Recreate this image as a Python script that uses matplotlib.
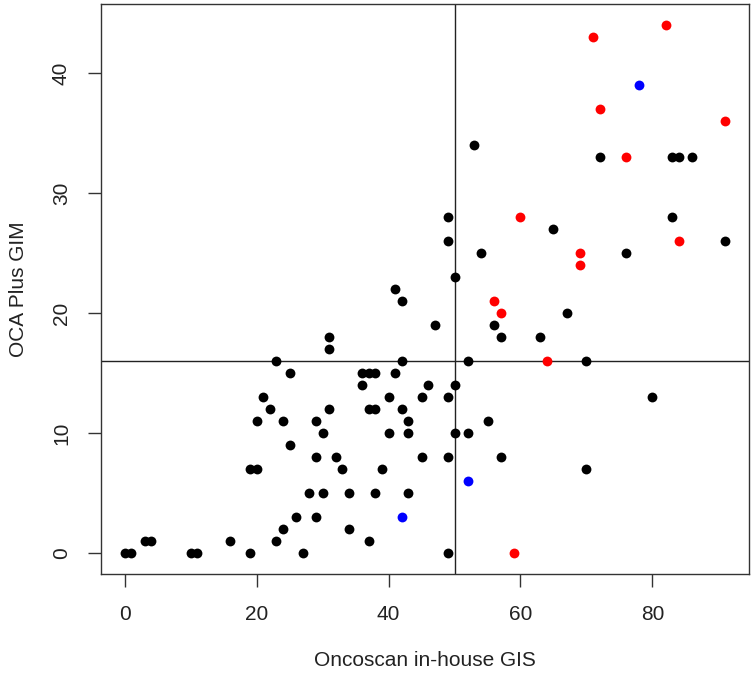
import matplotlib
matplotlib.use("Agg")
import matplotlib.pyplot as plt

# black points: GIS (in-house Oncoscan) vs OCA Plus GIM
black_x = [0, 1, 3, 4, 10, 11, 16, 19, 19, 20, 20, 21, 22, 23, 23, 24, 24, 25, 25, 26, 27,
           28, 29, 29, 29, 30, 30, 31, 31, 31, 32, 33, 34, 34, 36, 36, 37, 37, 37, 38, 38, 38,
           39, 40, 40, 41, 41, 42, 42, 42, 43, 43, 43, 45, 45, 46, 47, 49, 49, 49, 49, 49,
           50, 50, 50, 52, 52, 53, 54, 55, 56, 57, 57, 63, 65, 67, 70, 70, 72, 76, 80,
           83, 84, 86, 83, 91]
black_y = [0, 0, 1, 1, 0, 0, 1, 0, 7, 7, 11, 13, 12, 16, 1, 2, 11, 15, 9, 3, 0,
           5, 11, 8, 3, 10, 5, 18, 17, 12, 8, 7, 5, 2, 15, 14, 15, 12, 1, 15, 12, 5,
           7, 13, 10, 15, 22, 21, 16, 12, 11, 10, 5, 13, 8, 14, 19, 28, 26, 13, 8, 0,
           23, 14, 10, 16, 10, 34, 25, 11, 19, 18, 8, 18, 27, 20, 16, 7, 33, 25, 13,
           33, 33, 33, 28, 26]

red_x = [59, 56, 57, 60, 64, 69, 69, 71, 72, 76, 82, 84, 91]
red_y = [0, 21, 20, 28, 16, 25, 24, 43, 37, 33, 44, 26, 36]

blue_x = [42, 52, 78]
blue_y = [3, 6, 39]

x_cut = 50
y_cut = 16

x_ticks = [0, 20, 40, 60, 80]
y_ticks = [0, 10, 20, 30, 40]

plt.rcParams["font.family"] = ["Liberation Sans", "DejaVu Sans"]

fig = plt.figure(figsize=(7.51, 6.75), dpi=100)
ax = fig.add_axes([0.1341, 0.1496, 0.8632, 0.8444])

ms = 50
ax.scatter(black_x, black_y, s=ms, color="black", linewidths=0, zorder=3)
ax.scatter(red_x, red_y, s=ms, color="#ff0000", linewidths=0, zorder=3)
ax.scatter(blue_x, blue_y, s=ms, color="#0000ff", linewidths=0, zorder=3)

ax.axvline(x_cut, color="#222222", lw=1.0, zorder=2)
ax.axhline(y_cut, color="#222222", lw=1.0, zorder=2)

# R-style 4% padding
xr = max(black_x + red_x + blue_x) - 0
yr = max(black_y + red_y + blue_y) - 0
ax.set_xlim(-0.04 * xr, xr * 1.04)
ax.set_ylim(-0.04 * yr, yr * 1.04)

ax.set_xticks(x_ticks)
ax.set_yticks(y_ticks)
ax.set_yticklabels([str(t) for t in y_ticks], rotation=90, va="center")
ax.tick_params(axis="both", direction="out", length=9.4, width=1.0,
               color="#333333", labelsize=15, labelcolor="#222222")
ax.tick_params(axis="x", pad=13)
ax.tick_params(axis="y", pad=12)

for sp in ax.spines.values():
    sp.set_color("#333333")
    sp.set_linewidth(1.0)

ax.set_xlabel("Oncoscan in-house GIS", fontsize=15, color="#222222", labelpad=19)
ax.set_ylabel("OCA Plus GIM", fontsize=15, color="#222222", labelpad=17)

fig.savefig("out.png", dpi=100)
